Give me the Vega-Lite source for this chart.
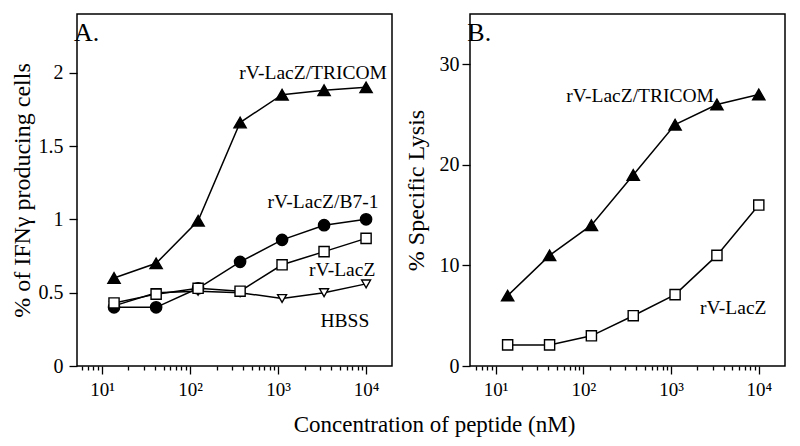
{
  "$schema": "https://vega.github.io/schema/vega-lite/v6.json",
  "background": "white",
  "padding": {"left": 9, "top": 13, "right": 5, "bottom": 5},
  "config": {
    "font": "Liberation Serif, Times New Roman, serif",
    "view": {"stroke": "black", "strokeWidth": 1.5},
    "text": {"font": "Liberation Serif, Times New Roman, serif"},
    "axis": {
      "domain": false, "grid": false,
      "labelFont": "Liberation Serif, Times New Roman, serif", "labelFontSize": 20, "labelColor": "black",
      "titleFont": "Liberation Serif, Times New Roman, serif", "titleFontSize": 24, "titleFontWeight": "normal", "titleColor": "black",
      "tickColor": "black", "tickWidth": 1.3
    },
    "title": {"font": "Liberation Serif, Times New Roman, serif"}
  },
  "title": {"text": "Concentration of peptide (nM)", "orient": "bottom", "anchor": "middle", "font": "Liberation Serif, Times New Roman, serif", "fontSize": 23, "fontWeight": "normal", "offset": 14, "dx": 37},
  "datasets": {
    "a": [
      {"conc": 13.7, "value": 0.6, "series": "TRICOM"},
      {"conc": 41.2, "value": 0.7, "series": "TRICOM"},
      {"conc": 123.5, "value": 0.99, "series": "TRICOM"},
      {"conc": 370.4, "value": 1.66, "series": "TRICOM"},
      {"conc": 1111, "value": 1.85, "series": "TRICOM"},
      {"conc": 3333, "value": 1.88, "series": "TRICOM"},
      {"conc": 10000, "value": 1.9, "series": "TRICOM"},
      {"conc": 13.7, "value": 0.4, "series": "B7-1"},
      {"conc": 41.2, "value": 0.4, "series": "B7-1"},
      {"conc": 123.5, "value": 0.53, "series": "B7-1"},
      {"conc": 370.4, "value": 0.71, "series": "B7-1"},
      {"conc": 1111, "value": 0.86, "series": "B7-1"},
      {"conc": 3333, "value": 0.96, "series": "B7-1"},
      {"conc": 10000, "value": 1.0, "series": "B7-1"},
      {"conc": 13.7, "value": 0.41, "series": "HBSS"},
      {"conc": 41.2, "value": 0.5, "series": "HBSS"},
      {"conc": 123.5, "value": 0.51, "series": "HBSS"},
      {"conc": 370.4, "value": 0.5, "series": "HBSS"},
      {"conc": 1111, "value": 0.46, "series": "HBSS"},
      {"conc": 3333, "value": 0.5, "series": "HBSS"},
      {"conc": 10000, "value": 0.56, "series": "HBSS"},
      {"conc": 13.7, "value": 0.43, "series": "LacZ"},
      {"conc": 41.2, "value": 0.49, "series": "LacZ"},
      {"conc": 123.5, "value": 0.53, "series": "LacZ"},
      {"conc": 370.4, "value": 0.51, "series": "LacZ"},
      {"conc": 1111, "value": 0.69, "series": "LacZ"},
      {"conc": 3333, "value": 0.78, "series": "LacZ"},
      {"conc": 10000, "value": 0.87, "series": "LacZ"}
    ],
    "b": [
      {"conc": 13.7, "value": 7, "series": "TRICOM"},
      {"conc": 41.2, "value": 11, "series": "TRICOM"},
      {"conc": 123.5, "value": 14, "series": "TRICOM"},
      {"conc": 370.4, "value": 19, "series": "TRICOM"},
      {"conc": 1111, "value": 24, "series": "TRICOM"},
      {"conc": 3333, "value": 26, "series": "TRICOM"},
      {"conc": 10000, "value": 27, "series": "TRICOM"},
      {"conc": 13.7, "value": 2.1, "series": "LacZ"},
      {"conc": 41.2, "value": 2.1, "series": "LacZ"},
      {"conc": 123.5, "value": 3.0, "series": "LacZ"},
      {"conc": 370.4, "value": 5.0, "series": "LacZ"},
      {"conc": 1111, "value": 7.1, "series": "LacZ"},
      {"conc": 3333, "value": 11, "series": "LacZ"},
      {"conc": 10000, "value": 16, "series": "LacZ"}
    ],
    "annA": [
      {"conc": 6.7, "value": 2.27, "text": "A.", "size": 26},
      {"conc": 2500, "value": 2.0, "text": "rV-LacZ/TRICOM", "size": 19.5},
      {"conc": 3240, "value": 1.12, "text": "rV-LacZ/B7-1", "size": 19.5},
      {"conc": 5340, "value": 0.655, "text": "rV-LacZ", "size": 19.5},
      {"conc": 5750, "value": 0.31, "text": "HBSS", "size": 19.5}
    ],
    "annB": [
      {"conc": 6.5, "value": 33.1, "text": "B.", "size": 26},
      {"conc": 443, "value": 26.8, "text": "rV-LacZ/TRICOM", "size": 19.5},
      {"conc": 5120, "value": 5.8, "text": "rV-LacZ", "size": 19.5}
    ]
  },
  "spacing": 10,
  "hconcat": [
    {
      "width": 315, "height": 352,
      "layer": [
        {
          "data": {"name": "a"},
          "mark": {"type": "line", "color": "black", "strokeWidth": 1.5},
          "encoding": {
            "x": {"field": "conc", "type": "quantitative"},
            "y": {"field": "value", "type": "quantitative"},
            "detail": {"field": "series"}
          }
        },
        {
          "data": {"name": "a"},
          "mark": {"type": "point", "stroke": "black", "strokeWidth": 1.4, "opacity": 1, "filled": false},
          "encoding": {
            "x": {"field": "conc", "type": "quantitative"},
            "y": {"field": "value", "type": "quantitative"},
            "shape": {"field": "series", "type": "nominal", "legend": null, "scale": {"domain": ["TRICOM", "B7-1", "LacZ", "HBSS"], "range": ["triangle-up", "circle", "square", "triangle-down"]}},
            "fill": {"field": "series", "type": "nominal", "legend": null, "scale": {"domain": ["TRICOM", "B7-1", "LacZ", "HBSS"], "range": ["black", "black", "white", "white"]}},
            "size": {"field": "series", "type": "nominal", "legend": null, "scale": {"domain": ["TRICOM", "B7-1", "LacZ", "HBSS"], "range": [150, 80, 90, 100]}}
          }
        },
        {
          "data": {"name": "annA"},
          "mark": {"type": "text", "font": "Liberation Serif, Times New Roman, serif", "color": "black", "baseline": "middle"},
          "encoding": {
            "x": {"field": "conc", "type": "quantitative"},
            "y": {"field": "value", "type": "quantitative"},
            "text": {"field": "text"},
            "size": {"field": "size", "type": "quantitative", "scale": null, "legend": null},
            "align": {"condition": {"test": "datum.text == 'A.'", "value": "left"}, "value": "center"}
          }
        }
      ],
      "encoding": {
        "x": {"field": "conc", "type": "quantitative", "title": null,
          "scale": {"type": "log", "domain": [5.2, 19700], "nice": false},
          "axis": {
            "values": [6,7,8,9,10,20,30,40,50,60,70,80,90,100,200,300,400,500,600,700,800,900,1000,2000,3000,4000,5000,6000,7000,8000,9000,10000],
            "labelExpr": "datum.value==10?'10¹':datum.value==100?'10²':datum.value==1000?'10³':datum.value==10000?'10⁴':''",
            "labelFontSize": 19,
            "tickSize": {"condition": {"test": "indexof([10,100,1000,10000], datum.value) >= 0", "value": 8}, "value": 4},
            "labelPadding": 6, "labelFlush": false, "labelOverlap": false
          }
        },
        "y": {"field": "value", "type": "quantitative", "title": "% of IFNγ producing cells",
          "scale": {"domain": [0, 2.4], "nice": false},
          "axis": {"values": [0, 0.5, 1, 1.5, 2], "format": ".1~f", "tickSize": 8, "labelPadding": 6, "titlePadding": 4}
        }
      }
    },
    {
      "width": 315, "height": 352,
      "layer": [
        {
          "data": {"name": "b"},
          "mark": {"type": "line", "color": "black", "strokeWidth": 1.5},
          "encoding": {
            "x": {"field": "conc", "type": "quantitative"},
            "y": {"field": "value", "type": "quantitative"},
            "detail": {"field": "series"}
          }
        },
        {
          "data": {"name": "b"},
          "mark": {"type": "point", "stroke": "black", "strokeWidth": 1.4, "opacity": 1, "filled": false},
          "encoding": {
            "x": {"field": "conc", "type": "quantitative"},
            "y": {"field": "value", "type": "quantitative"},
            "shape": {"field": "series", "type": "nominal", "legend": null, "scale": {"domain": ["TRICOM", "LacZ"], "range": ["triangle-up", "square"]}},
            "fill": {"field": "series", "type": "nominal", "legend": null, "scale": {"domain": ["TRICOM", "LacZ"], "range": ["black", "white"]}},
            "size": {"field": "series", "type": "nominal", "legend": null, "scale": {"domain": ["TRICOM", "LacZ"], "range": [160, 100]}}
          }
        },
        {
          "data": {"name": "annB"},
          "mark": {"type": "text", "font": "Liberation Serif, Times New Roman, serif", "color": "black", "baseline": "middle"},
          "encoding": {
            "x": {"field": "conc", "type": "quantitative"},
            "y": {"field": "value", "type": "quantitative"},
            "text": {"field": "text"},
            "size": {"field": "size", "type": "quantitative", "scale": null, "legend": null},
            "align": {"condition": {"test": "datum.text == 'B.'", "value": "left"}, "value": "center"}
          }
        }
      ],
      "encoding": {
        "x": {"field": "conc", "type": "quantitative", "title": null,
          "scale": {"type": "log", "domain": [5.1, 19900], "nice": false},
          "axis": {
            "values": [6,7,8,9,10,20,30,40,50,60,70,80,90,100,200,300,400,500,600,700,800,900,1000,2000,3000,4000,5000,6000,7000,8000,9000,10000],
            "labelExpr": "datum.value==10?'10¹':datum.value==100?'10²':datum.value==1000?'10³':datum.value==10000?'10⁴':''",
            "labelFontSize": 19,
            "tickSize": {"condition": {"test": "indexof([10,100,1000,10000], datum.value) >= 0", "value": 8}, "value": 4},
            "labelPadding": 6, "labelFlush": false, "labelOverlap": false
          }
        },
        "y": {"field": "value", "type": "quantitative", "title": "% Specific Lysis",
          "scale": {"domain": [0, 35], "nice": false},
          "axis": {"values": [0, 10, 20, 30], "tickSize": 8, "labelPadding": 3, "titlePadding": 11}
        }
      }
    }
  ]
}
